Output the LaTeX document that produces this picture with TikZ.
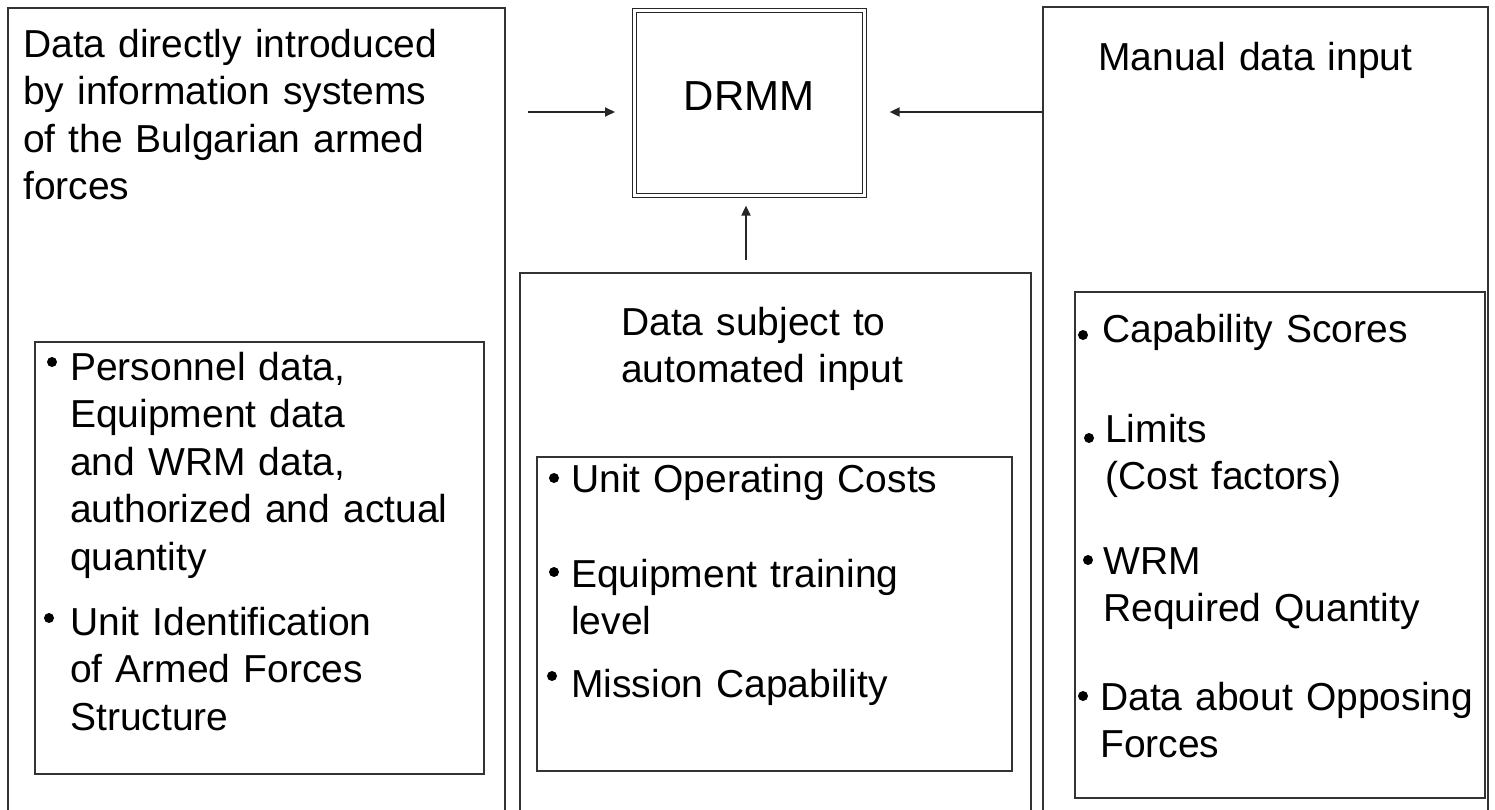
\documentclass[tikz,border=0pt]{standalone}
\usepackage{fontspec}
\setmainfont{Liberation Sans}
\usetikzlibrary{arrows.meta}
\begin{document}
\begin{tikzpicture}[x=1pt,y=-1pt,
  frame/.style={draw=black!80, line width=1.8pt},
  listbox/.style={frame, anchor=north west, inner sep=0pt},
  body/.style={anchor=base west, inner sep=0pt, text width=430pt, align=left,
    font=\fontsize{39}{47.5}\selectfont},
  dot/.style={fill=black},
  feed/.style={draw=black!85, line width=1.8pt, -{Triangle[length=10pt,width=9pt]}}
]
\path[use as bounding box] (0,0) rectangle (1495,809);
\clip (0,0) rectangle (1495,809);

% three source columns, running past the lower edge
\draw[frame] (8,830) |- (505,8) -- (505,830);
\draw[frame] (520,830) |- (1031,273) -- (1031,830);
\draw[frame] (1043,830) |- (1488,7) -- (1488,830);

% framed lists inside the columns
\node[listbox, minimum width=449pt, minimum height=432pt] (listA) at (34,341) {};
\node[listbox, minimum width=475pt, minimum height=314pt] (listB) at (536,456) {};
\node[listbox, minimum width=410pt, minimum height=506pt] (listC) at (1074,291) {};

% central model
\node[draw=black!85, line width=1.6pt, double, double distance=2.4pt,
      minimum width=230pt, minimum height=185pt, anchor=north west, inner sep=0pt]
      (drmm) at (633.5,9.5) {};
\node[anchor=base, inner sep=0pt, font=\fontsize{42}{50}\selectfont] (drmmtxt) at (749,110) {DRMM};

% data flows into the model
\coordinate (srcA) at (528,112);
\coordinate (srcC) at (1043,112);
\coordinate (srcB) at (746,260);
\draw[feed, shorten >=18.5pt] (srcA) -- (drmm.west |- srcA);
\draw[feed, shorten >=24.5pt] (srcC) -- (drmm.east |- srcC);
\draw[feed, shorten >=9.5pt] (srcB) -- (drmm.south -| srcB);

% left column
\node[body] (titleA) at (23,57) {Data directly introduced\\by information systems\\of the Bulgarian armed\\forces};
\node[body] (a1) at (70,380) {Personnel data,\\Equipment data\\and WRM data,\\authorized and actual\\quantity};
\node[body] (a2) at (70,635) {Unit Identification\\of Armed Forces\\Structure};
\fill[dot] (52,362) circle (5pt);
\fill[dot] (49,618) circle (5pt);

% middle column
\node[body] (titleB) at (621,335) {Data subject to\\automated input};
\node[body] (b1) at (571,492) {Unit Operating Costs};
\node[body] (b2) at (571,587) {Equipment training\\level};
\node[body] (b3) at (571,697) {Mission Capability};
\fill[dot] (554,478) circle (5pt);
\fill[dot] (554,572) circle (5pt);
\fill[dot] (552,676) circle (5pt);

% right column
\node[body] (titleC) at (1098,70) {Manual data input};
\node[body] (c1) at (1102,342) {Capability Scores};
\node[body] (c2) at (1105,442) {Limits\\(Cost factors)};
\node[body] (c3) at (1103,574) {WRM\\Required Quantity};
\node[body] (c4) at (1100,710) {Data about Opposing\\Forces};
\fill[dot] (1083,335) circle (5pt);
\fill[dot] (1089,438) circle (5pt);
\fill[dot] (1088,560) circle (5pt);
\fill[dot] (1083,696) circle (5pt);
\end{tikzpicture}
\end{document}
